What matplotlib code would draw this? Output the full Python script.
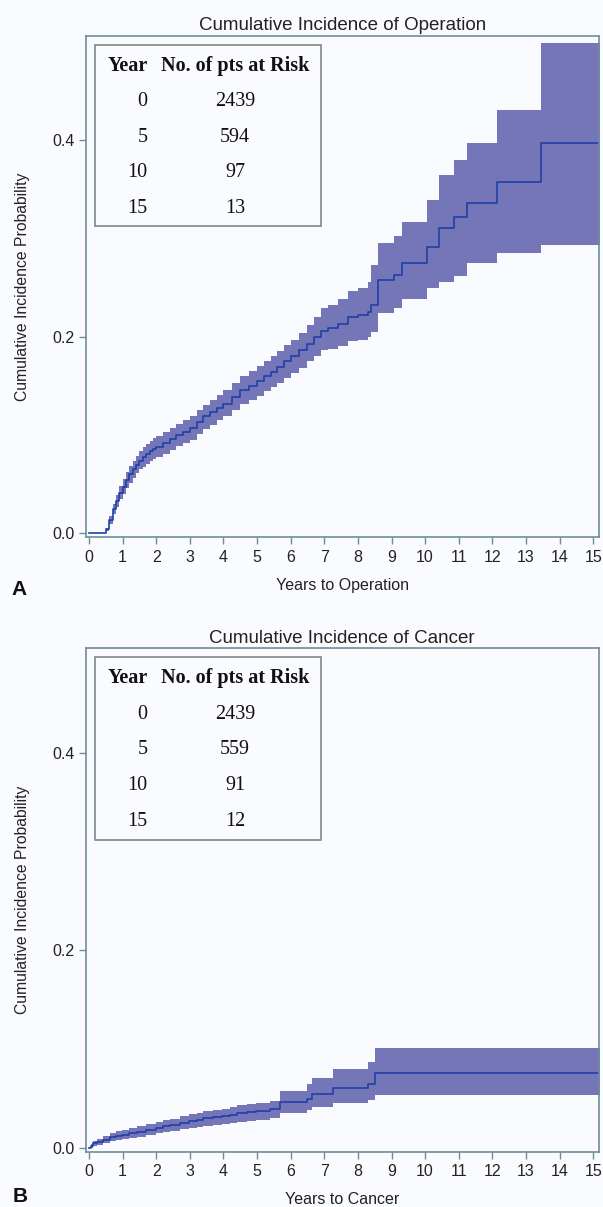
import matplotlib.pyplot as plt
from matplotlib.patches import Rectangle

# --- panel A: cumulative incidence of operation (step 'post') ---
op_years = [0.00, 0.50, 0.60, 0.70, 0.80, 0.90, 1.00, 1.10, 1.20, 1.30, 1.40, 1.50,
            1.60, 1.70, 1.80, 1.90, 2.00, 2.20, 2.40, 2.60, 2.80, 3.00, 3.20, 3.40,
            3.60, 3.80, 4.00, 4.25, 4.50, 4.75, 5.00, 5.20, 5.40, 5.60, 5.80, 6.00,
            6.25, 6.50, 6.70, 6.90, 7.10, 7.40, 7.70, 8.00, 8.30, 8.40, 8.61, 9.06,
            9.31, 10.05, 10.40, 10.85, 11.24, 12.13, 13.44, 15.20]
op_est = [0.000, 0.004, 0.014, 0.025, 0.033, 0.041, 0.047, 0.054, 0.060, 0.065, 0.070, 0.074,
          0.078, 0.081, 0.084, 0.086, 0.088, 0.092, 0.096, 0.100, 0.103, 0.107, 0.113, 0.119,
          0.123, 0.128, 0.132, 0.139, 0.146, 0.150, 0.155, 0.160, 0.164, 0.169, 0.175, 0.180,
          0.186, 0.193, 0.200, 0.206, 0.209, 0.213, 0.220, 0.222, 0.225, 0.232, 0.258, 0.263,
          0.275, 0.291, 0.311, 0.322, 0.336, 0.357, 0.397, 0.397]
op_lo = [0.000, 0.002, 0.010, 0.020, 0.027, 0.035, 0.040, 0.046, 0.051, 0.056, 0.061, 0.065,
         0.068, 0.071, 0.074, 0.076, 0.078, 0.081, 0.085, 0.089, 0.092, 0.095, 0.101, 0.106,
         0.110, 0.115, 0.119, 0.125, 0.132, 0.136, 0.140, 0.145, 0.149, 0.153, 0.158, 0.163,
         0.168, 0.175, 0.180, 0.186, 0.188, 0.191, 0.196, 0.197, 0.200, 0.205, 0.224, 0.229,
         0.238, 0.250, 0.256, 0.262, 0.275, 0.285, 0.293, 0.293]
op_up = [0.000, 0.006, 0.018, 0.030, 0.039, 0.048, 0.055, 0.062, 0.069, 0.074, 0.079, 0.084,
         0.088, 0.091, 0.094, 0.097, 0.099, 0.103, 0.107, 0.111, 0.115, 0.119, 0.125, 0.131,
         0.136, 0.141, 0.146, 0.153, 0.160, 0.165, 0.170, 0.175, 0.180, 0.185, 0.192, 0.197,
         0.204, 0.212, 0.220, 0.229, 0.232, 0.238, 0.246, 0.250, 0.256, 0.273, 0.295, 0.302,
         0.317, 0.339, 0.364, 0.380, 0.397, 0.430, 0.499, 0.499]

# --- panel B: cumulative incidence of cancer ---
ca_years = [0.00, 0.05, 0.13, 0.25, 0.43, 0.63, 0.80, 0.99, 1.20, 1.42, 1.70, 1.98,
            2.20, 2.41, 2.70, 2.98, 3.20, 3.40, 3.70, 3.97, 4.20, 4.39, 4.70, 4.96,
            5.39, 5.68, 6.48, 6.63, 7.27, 8.31, 8.51, 15.20]
ca_est = [0.000, 0.002, 0.0045, 0.006, 0.008, 0.0105, 0.012, 0.013, 0.015, 0.016, 0.0185, 0.0205,
          0.022, 0.023, 0.025, 0.027, 0.028, 0.0297, 0.031, 0.032, 0.0335, 0.0348, 0.036, 0.0375,
          0.039, 0.0466, 0.049, 0.0543, 0.061, 0.065, 0.0753, 0.0753]
ca_lo = [0.000, 0.000, 0.002, 0.003, 0.005, 0.007, 0.008, 0.009, 0.010, 0.011, 0.013, 0.0145,
         0.016, 0.017, 0.019, 0.020, 0.021, 0.022, 0.023, 0.024, 0.025, 0.026, 0.027, 0.028,
         0.030, 0.0354, 0.038, 0.0415, 0.045, 0.048, 0.0533, 0.0533]
ca_up = [0.000, 0.004, 0.007, 0.009, 0.012, 0.015, 0.017, 0.018, 0.020, 0.022, 0.024, 0.026,
         0.028, 0.029, 0.032, 0.034, 0.035, 0.037, 0.038, 0.039, 0.041, 0.043, 0.044, 0.045,
         0.047, 0.058, 0.065, 0.071, 0.080, 0.087, 0.101, 0.101]

risk_years = ["0", "5", "10", "15"]
op_at_risk = ["2439", "594", "97", "13"]
ca_at_risk = ["2439", "559", "91", "12"]

BG = "#FAFBFE"
FRAME = "#6F8D99"
BAND = "#7476B7"
LINE = "#1F3FA6"
SANS = ["Liberation Sans", "DejaVu Sans"]
SERIF = ["Liberation Serif", "DejaVu Serif"]

fig = plt.figure(figsize=(6.03, 12.07), dpi=100, facecolor=BG)
ax_a = fig.add_axes([0.1426, 0.5548, 0.850, 0.4156])
ax_b = fig.add_axes([0.1426, 0.0458, 0.850, 0.4171])


def draw_panel(ax, t, est, lo, up, title, xlabel, counts):
    ax.set_facecolor(BG)
    ax.fill_between(t, lo, up, step="post", color=BAND, lw=0)
    ax.step(t, est, where="post", color=LINE, lw=1.2)

    ax.set_xlim(-0.09, 15.16)
    ax.set_ylim(-0.004, 0.506)
    ax.set_xticks(range(16))
    ax.set_yticks([0.0, 0.2, 0.4])
    ax.set_yticklabels(["0.0", "0.2", "0.4"])
    for s in ax.spines.values():
        s.set_color(FRAME)
        s.set_linewidth(1.2)
    ax.tick_params(colors=FRAME, labelcolor="#222222", length=5, width=1.0,
                   labelsize=11.5)
    ax.tick_params(axis="x", pad=4)
    ax.tick_params(axis="y", pad=3)
    for lab in ax.get_xticklabels() + ax.get_yticklabels():
        lab.set_family(SANS)

    ax.set_title(title, family=SANS, fontsize=13.5, color="#222222", pad=4)
    ax.set_xlabel(xlabel, family=SANS, fontsize=11.5, color="#222222", va="center")
    ax.xaxis.set_label_coords(0.5, -0.095)
    ax.set_ylabel("Cumulative Incidence Probability", family=SANS, fontsize=11.3,
                  color="#222222", va="center")
    ax.yaxis.set_label_coords(-0.123, 0.5)

    # at-risk table in upper left corner
    ax.add_patch(Rectangle((0.0176, 0.620), 0.441, 0.362, transform=ax.transAxes,
                           fill=False, edgecolor="#808888", lw=1.2, zorder=5))
    hy = 0.940
    dy = 0.071
    ax.text(0.120, hy, "Year", transform=ax.transAxes, ha="right", va="center",
            family=SERIF, weight="bold", fontsize=14.5, color="#111111")
    ax.text(0.2907, hy, "No. of pts at Risk", transform=ax.transAxes, ha="center",
            va="center", family=SERIF, weight="bold", fontsize=14.5, color="#111111")
    for i, (yr, n) in enumerate(zip(risk_years, counts)):
        y = hy - dy * (i + 1)
        ax.text(0.120, y, yr, transform=ax.transAxes, ha="right", va="center",
                family=SERIF, fontsize=14.5, color="#111111")
        ax.text(0.2907, y, n, transform=ax.transAxes, ha="center", va="center",
                family=SERIF, fontsize=14.5, color="#111111")


draw_panel(ax_a, op_years, op_est, op_lo, op_up,
           "Cumulative Incidence of Operation", "Years to Operation", op_at_risk)
draw_panel(ax_b, ca_years, ca_est, ca_lo, ca_up,
           "Cumulative Incidence of Cancer", "Years to Cancer", ca_at_risk)

fig.text(19.5 / 603, 1 - 590 / 1207, "A", family=SANS, weight="bold", fontsize=15,
         ha="center", va="center", color="#111111")
fig.text(20 / 603, 1 - 1196 / 1207, "B", family=SANS, weight="bold", fontsize=15,
         ha="center", va="center", color="#111111")

fig.savefig("out.png", dpi=100, facecolor=BG)
